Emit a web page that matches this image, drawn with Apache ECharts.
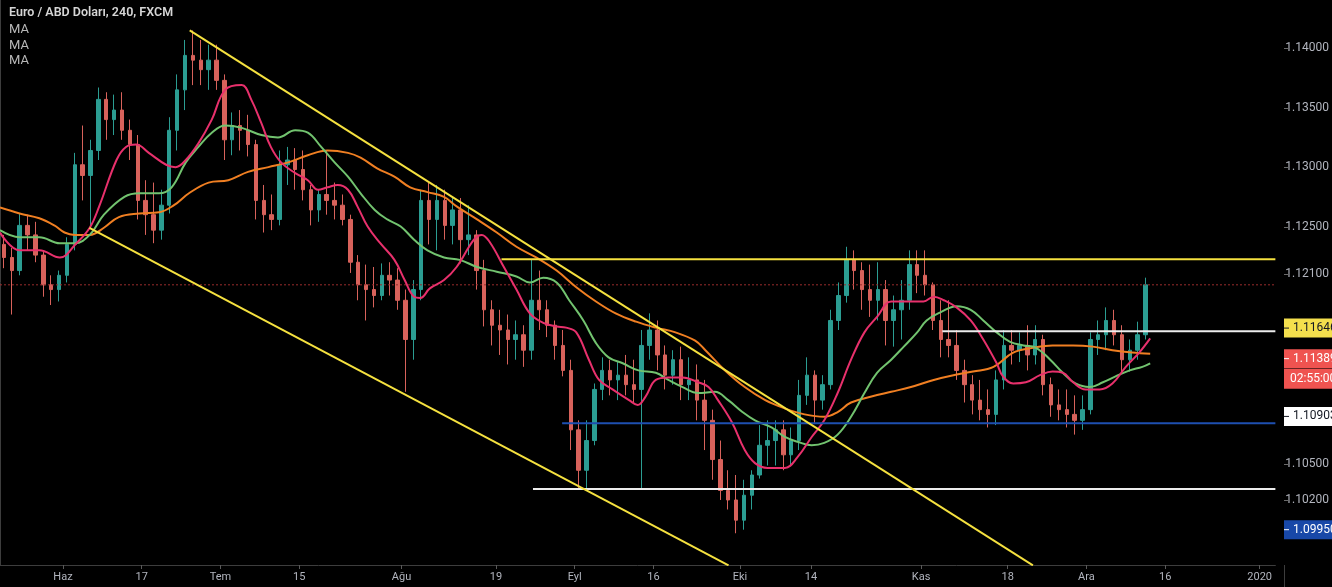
<!DOCTYPE html>
<html><head><meta charset="utf-8">
<script src="https://cdn.jsdelivr.net/npm/echarts@6/dist/echarts.min.js"></script>
<style>html,body{margin:0;padding:0;background:#000;}#c{width:1332px;height:587px;}</style>
</head><body><div id="c"></div>
<script>
// ---- calendar (forex trading days, one category per day) ----
const START_DAY = '2019-05-22';
const END_DAY = '2020-01-02';
function tradingDays(s, e) {
  const out = []; const d = new Date(s + 'T00:00:00Z'); const end = new Date(e + 'T00:00:00Z');
  while (d <= end) { const w = d.getUTCDay(); if (w !== 0 && w !== 6) out.push(d.toISOString().slice(0, 10)); d.setUTCDate(d.getUTCDate() + 1); }
  return out;
}
const days = tradingDays(START_DAY, END_DAY);

// ---- x tick labels ----
const tickDates = ['2019-06-03','2019-06-17','2019-07-01','2019-07-15','2019-08-01','2019-08-19','2019-09-02','2019-09-16','2019-10-01','2019-10-14','2019-11-01','2019-11-18','2019-12-02','2019-12-16','2020-01-01'];
const tickNames = ['Haz','17','Tem','15','Ağu','19','Eyl','16','Eki','14','Kas','18','Ara','16','2020'];

// ---- y tick labels ----
const yTicks = [1.1400, 1.1350, 1.1300, 1.1250, 1.1210, 1.1050, 1.1020];

// ---- daily candles [open, close, low, high] ----
const candles = [
[1.1235,1.1224,1.1215,1.1243],[1.1224,1.1213,1.1176,1.1232],[1.1213,1.1251,1.1209,1.1261],[1.1251,1.1243,1.1230,1.1260],
[1.1243,1.1226,1.1220,1.1254],[1.1226,1.1201,1.1191,1.1230],[1.1201,1.1197,1.1184,1.1209],[1.1197,1.1209,1.1187,1.1213],
[1.1209,1.1235,1.1203,1.1241],[1.1235,1.1302,1.1230,1.1312],[1.1302,1.1293,1.1272,1.1335],[1.1293,1.1314,1.1249,1.1323],
[1.1314,1.1357,1.1306,1.1367],[1.1357,1.1340,1.1323,1.1363],[1.1340,1.1348,1.1327,1.1361],[1.1348,1.1331,1.1323,1.1363],
[1.1331,1.1319,1.1306,1.1340],[1.1319,1.1272,1.1256,1.1327],[1.1272,1.1260,1.1243,1.1289],[1.1260,1.1247,1.1236,1.1287],
[1.1247,1.1268,1.1239,1.1281],[1.1268,1.1331,1.1261,1.1342],[1.1331,1.1365,1.1314,1.1378],[1.1365,1.1394,1.1348,1.1407],
[1.1394,1.1390,1.1369,1.1415],[1.1390,1.1382,1.1369,1.1407],[1.1382,1.1390,1.1365,1.1403],[1.1390,1.1373,1.1365,1.1403],
[1.1373,1.1323,1.1306,1.1378],[1.1323,1.1335,1.1310,1.1346],[1.1335,1.1331,1.1314,1.1348],[1.1331,1.1319,1.1309,1.1344],
[1.1319,1.1272,1.1256,1.1323],[1.1272,1.1260,1.1245,1.1285],[1.1260,1.1256,1.1247,1.1277],[1.1256,1.1302,1.1251,1.1314],
[1.1302,1.1306,1.1285,1.1317],[1.1306,1.1298,1.1281,1.1316],[1.1298,1.1281,1.1272,1.1314],[1.1281,1.1264,1.1251,1.1285],
[1.1264,1.1277,1.1254,1.1281],[1.1277,1.1272,1.1260,1.1314],[1.1272,1.1268,1.1256,1.1287],[1.1268,1.1256,1.1251,1.1277],
[1.1256,1.1220,1.1211,1.1260],[1.1220,1.1201,1.1188,1.1226],[1.1201,1.1197,1.1171,1.1218],[1.1197,1.1192,1.1182,1.1216],
[1.1192,1.1209,1.1188,1.1219],[1.1209,1.1205,1.1192,1.1220],[1.1205,1.1188,1.1180,1.1215],[1.1188,1.1155,1.1111,1.1197],
[1.1155,1.1197,1.1138,1.1205],[1.1197,1.1272,1.1188,1.1281],[1.1272,1.1256,1.1235,1.1287],[1.1256,1.1272,1.1230,1.1285],
[1.1272,1.1251,1.1239,1.1281],[1.1251,1.1264,1.1235,1.1274],[1.1264,1.1239,1.1219,1.1274],[1.1239,1.1243,1.1226,1.1268],
[1.1243,1.1213,1.1197,1.1247],[1.1213,1.1180,1.1166,1.1222],[1.1180,1.1167,1.1150,1.1188],[1.1167,1.1163,1.1142,1.1180],
[1.1163,1.1155,1.1134,1.1176],[1.1155,1.1159,1.1138,1.1171],[1.1159,1.1146,1.1132,1.1167],[1.1146,1.1188,1.1138,1.1222],
[1.1188,1.1180,1.1163,1.1213],[1.1180,1.1167,1.1157,1.1188],[1.1167,1.1150,1.1138,1.1171],[1.1150,1.1129,1.1124,1.1163],
[1.1129,1.1079,1.1062,1.1138],[1.1079,1.1045,1.1030,1.1087],[1.1045,1.1070,1.1028,1.1087],[1.1070,1.1113,1.1066,1.1118],
[1.1113,1.1129,1.1104,1.1140],[1.1129,1.1121,1.1108,1.1138],[1.1121,1.1125,1.1104,1.1136],[1.1125,1.1117,1.1108,1.1142],
[1.1117,1.1113,1.1102,1.1138],[1.1113,1.1150,1.1030,1.1163],[1.1150,1.1163,1.1138,1.1177],[1.1163,1.1142,1.1129,1.1171],
[1.1142,1.1125,1.1113,1.1150],[1.1125,1.1138,1.1117,1.1146],[1.1138,1.1117,1.1104,1.1149],[1.1117,1.1121,1.1104,1.1140],
[1.1121,1.1104,1.1087,1.1134],[1.1104,1.1087,1.1062,1.1121],[1.1087,1.1054,1.1037,1.1096],[1.1054,1.1028,1.1020,1.1070],
[1.1028,1.1020,1.1012,1.1045],[1.1020,1.1003,1.0992,1.1041],[1.1003,1.1024,1.0995,1.1037],[1.1024,1.1041,1.1012,1.1045],
[1.1041,1.1066,1.1038,1.1083],[1.1066,1.1070,1.1049,1.1087],[1.1070,1.1079,1.1049,1.1087],[1.1079,1.1058,1.1045,1.1087],
[1.1058,1.1070,1.1049,1.1081],[1.1070,1.1108,1.1062,1.1121],[1.1108,1.1125,1.1100,1.1140],[1.1125,1.1104,1.1085,1.1129],
[1.1104,1.1117,1.1096,1.1125],[1.1117,1.1171,1.1113,1.1180],[1.1171,1.1192,1.1163,1.1203],[1.1192,1.1222,1.1186,1.1233],
[1.1222,1.1213,1.1197,1.1230],[1.1213,1.1197,1.1180,1.1220],[1.1197,1.1188,1.1174,1.1218],[1.1188,1.1197,1.1171,1.1220],
[1.1197,1.1171,1.1150,1.1205],[1.1171,1.1180,1.1149,1.1192],[1.1180,1.1188,1.1155,1.1205],[1.1188,1.1218,1.1180,1.1230],
[1.1218,1.1209,1.1194,1.1230],[1.1209,1.1201,1.1192,1.1230],[1.1201,1.1171,1.1163,1.1203],[1.1171,1.1155,1.1140,1.1188],
[1.1155,1.1150,1.1140,1.1188],[1.1150,1.1129,1.1121,1.1163],[1.1129,1.1117,1.1102,1.1138],[1.1117,1.1104,1.1092,1.1125],
[1.1104,1.1096,1.1087,1.1121],[1.1096,1.1092,1.1081,1.1113],[1.1092,1.1121,1.1083,1.1129],[1.1121,1.1150,1.1113,1.1163],
[1.1150,1.1146,1.1134,1.1163],[1.1146,1.1150,1.1136,1.1161],[1.1150,1.1142,1.1129,1.1167],[1.1142,1.1155,1.1134,1.1167],
[1.1155,1.1117,1.1108,1.1159],[1.1117,1.1100,1.1090,1.1123],[1.1100,1.1096,1.1087,1.1113],[1.1096,1.1092,1.1081,1.1113],
[1.1092,1.1087,1.1075,1.1108],[1.1087,1.1096,1.1079,1.1108],[1.1096,1.1155,1.1092,1.1161],[1.1155,1.1159,1.1142,1.1171],
[1.1159,1.1171,1.1146,1.1182],[1.1171,1.1159,1.1150,1.1180],[1.1159,1.1138,1.1127,1.1167],[1.1138,1.1146,1.1128,1.1155],
[1.1146,1.1159,1.1138,1.1170],[1.1159,1.1201,1.1155,1.1207]
];

// ---- moving averages: [day position, price] ----
const maFast = [[0,1.1245],[2.5,1.1230],[5.0,1.1230],[7.6,1.1224],[9.7,1.1236],[11.4,1.1249],[12.6,1.1267],[14.8,1.1306],[16.0,1.1317],[17.3,1.1319],[18.9,1.1312],[21.1,1.1302],[22.3,1.1300],[23.6,1.1306],[25.2,1.1320],[26.9,1.1340],[28.6,1.1365],[30.7,1.1369],[31.9,1.1357],[33.2,1.1337],[34.4,1.1317],[35.7,1.1304],[37.5,1.1295],[39.1,1.1289],[40.4,1.1281],[41.6,1.1283],[42.9,1.1285],[44.2,1.1281],[45.4,1.1267],[46.7,1.1250],[48.3,1.1236],[50.1,1.1222],[51.4,1.1205],[52.6,1.1191],[53.4,1.1190],[54.6,1.1198],[56.4,1.1205],[58.0,1.1216],[60.2,1.1239],[61.2,1.1243],[62.2,1.1237],[64.0,1.1216],[65.6,1.1197],[67.3,1.1177],[69.0,1.1169],[70.7,1.1166],[71.9,1.1165],[73.2,1.1161],[74.8,1.1138],[76.1,1.1121],[77.8,1.1113],[79.9,1.1104],[81.0,1.1100],[82.0,1.1107],[83.3,1.1121],[84.9,1.1123],[86.7,1.1123],[88.7,1.1119],[90.0,1.1115],[91.2,1.1104],[93.0,1.1085],[94.6,1.1062],[95.9,1.1051],[97.5,1.1047],[99.7,1.1047],[101.3,1.1056],[103.1,1.1073],[104.7,1.1087],[106.4,1.1110],[108.1,1.1138],[109.8,1.1161],[111.4,1.1174],[113.2,1.1187],[114.8,1.1187],[117.3,1.1187],[118.6,1.1191],[119.9,1.1188],[121.5,1.1182],[123.3,1.1171],[124.9,1.1155],[126.6,1.1135],[127.4,1.1124],[128.7,1.1118],[130.3,1.1119],[132.1,1.1125],[133.7,1.1128],[135.0,1.1127],[136.3,1.1119],[137.9,1.1113],[139.7,1.1113],[141.3,1.1118],[143.0,1.1132],[144.7,1.1144],[146.1,1.1156]];
const maMid = [[0,1.1247],[2.5,1.1241],[5.0,1.1241],[7.6,1.1236],[9.5,1.1236],[11.4,1.1243],[13.2,1.1260],[15.8,1.1275],[17.7,1.1278],[20.2,1.1278],[21.8,1.1283],[23.6,1.1304],[25.2,1.1317],[26.9,1.1329],[28.6,1.1335],[30.7,1.1333],[33.2,1.1327],[35.3,1.1325],[37.5,1.1331],[39.1,1.1329],[40.8,1.1317],[42.5,1.1304],[44.2,1.1292],[45.8,1.1278],[47.6,1.1264],[49.2,1.1256],[50.9,1.1250],[52.6,1.1239],[54.3,1.1230],[56.4,1.1224],[58.4,1.1222],[60.6,1.1216],[63.1,1.1212],[65.6,1.1208],[67.3,1.1203],[69.0,1.1207],[70.7,1.1203],[72.3,1.1188],[74.1,1.1171],[75.7,1.1152],[77.3,1.1140],[79.1,1.1135],[81.1,1.1129],[83.3,1.1127],[84.9,1.1121],[86.7,1.1115],[88.7,1.1110],[90.8,1.1111],[92.5,1.1104],[94.3,1.1094],[95.9,1.1087],[98.0,1.1081],[99.7,1.1073],[101.3,1.1069],[103.1,1.1066],[104.7,1.1068],[106.4,1.1075],[108.1,1.1090],[109.8,1.1110],[111.4,1.1127],[113.2,1.1138],[114.8,1.1149],[116.5,1.1161],[117.7,1.1171],[119.5,1.1178],[121.5,1.1183],[123.3,1.1180],[124.9,1.1171],[126.6,1.1161],[128.3,1.1153],[130.0,1.1150],[131.6,1.1148],[133.4,1.1138],[135.0,1.1127],[136.6,1.1118],[138.4,1.1115],[140.1,1.1119],[141.7,1.1124],[143.5,1.1129],[145.1,1.1132],[146.1,1.1135]];
const maSlow = [[0,1.1266],[2.5,1.1261],[5.0,1.1257],[6.9,1.1251],[8.2,1.1245],[9.5,1.1243],[11.4,1.1243],[13.2,1.1249],[15.1,1.1258],[17.7,1.1261],[20.2,1.1262],[22.1,1.1268],[24.0,1.1278],[26.5,1.1287],[29.0,1.1289],[31.5,1.1296],[34.1,1.1300],[36.6,1.1304],[39.1,1.1310],[41.6,1.1314],[44.2,1.1312],[45.8,1.1308],[47.9,1.1299],[50.1,1.1292],[52.1,1.1283],[54.3,1.1279],[56.4,1.1275],[58.0,1.1267],[60.6,1.1256],[63.1,1.1245],[65.6,1.1233],[68.1,1.1224],[70.7,1.1213],[73.2,1.1199],[75.7,1.1187],[78.2,1.1177],[80.8,1.1170],[83.3,1.1165],[85.8,1.1161],[88.3,1.1154],[89.6,1.1146],[92.1,1.1129],[94.6,1.1115],[97.2,1.1104],[99.7,1.1097],[102.2,1.1092],[104.7,1.1090],[106.4,1.1094],[108.1,1.1102],[110.7,1.1107],[113.2,1.1111],[115.7,1.1115],[118.6,1.1121],[121.1,1.1125],[123.6,1.1128],[126.2,1.1132],[128.7,1.1144],[131.2,1.1148],[133.7,1.1150],[136.3,1.1150],[138.8,1.1149],[141.3,1.1146],[143.8,1.1144],[146.1,1.1143]];

// ---- drawn trend lines [day position, price] ----
const trendUpper = [[24.1,1.1415],[131.2,1.0965]];
const trendLower = [[11.36,1.1249],[92.54,1.0965]];
// horizontal levels: [start day position, price]
const levelYellow = [63.7, 1.12226];
const levelWhiteHigh = [119.7, 1.1162];
const levelWhiteLow = [67.7, 1.10292];
const levelBlue = [71.4, 1.10845];
const lastPrice = 1.1201;

// right-axis price tags
const priceTags = [
  {value:1.11646, text:'1.11646', bg:'#f4df4d', fg:'#131722'},
  {value:1.11389, text:'1.11389', bg:'#ef5350', fg:'#ffffff', sub:'02:55:00'},
  {value:1.10903, text:'1.10903', bg:'#ffffff', fg:'#131722'},
  {value:1.09950, text:'1.09950', bg:'#1848a8', fg:'#ffffff'}
];

const N = days.length;
const tickIdx = tickDates.map(d => days.indexOf(d));
const hline = (lv) => [[lv[0], lv[1]], [N, lv[1]]];
const lineS = (name, data, color, width, extra) => Object.assign({
  name, type:'line', xAxisIndex:1, yAxisIndex:0, data, symbol:'none', silent:true,
  lineStyle:{color, width}, z:3
}, extra || {});

const chart = echarts.init(document.getElementById('c'), null, {renderer:'canvas'});
chart.setOption({
  backgroundColor:'#000000',
  animation:false,
  grid:{left:0, right:48, top:0, bottom:22},
  xAxis:[
    {type:'category', data:days, show:false, boundaryGap:true},
    {type:'value', min:0, max:N, position:'bottom',
     axisLine:{show:true, lineStyle:{color:'#3d3d3d'}},
     axisTick:{show:true, customValues:tickIdx, length:4, lineStyle:{color:'#5a5a5a'}},
     axisLabel:{customValues:tickIdx, formatter:(v)=>tickNames[tickIdx.indexOf(v)], color:'#b2b5be', fontSize:11, fontFamily:'Roboto', margin:7},
     splitLine:{show:false}}
  ],
  yAxis:[{type:'value', position:'right', min:1.09653, max:1.14406, scale:true,
    axisLine:{show:true, lineStyle:{color:'#3d3d3d'}},
    axisTick:{show:false},
    axisLabel:{customValues:yTicks, formatter:(v)=>v.toFixed(5), color:'#b2b5be', fontSize:12, fontFamily:'Roboto', margin:10},
    splitLine:{show:false}}],
  series:[
    {name:'EURUSD', type:'candlestick', xAxisIndex:0, yAxisIndex:0, data:candles, barWidth:'50%', silent:true,
     itemStyle:{color:'#2b9d92', color0:'#d8625b', borderColor:'#2b9d92', borderColor0:'#d8625b', borderWidth:1}, z:2},
    lineS('last', [[0,lastPrice],[N,lastPrice]], '#9a2c2c', 1, {lineStyle:{color:'#9a2c2c', width:1, type:[2,2]}}),
    lineS('maSlow', maSlow, '#f07f22', 2, {smooth:0.4}),
    lineS('maMid', maMid, '#72c36f', 2, {smooth:0.4}),
    lineS('maFast', maFast, '#e8306c', 2, {smooth:0.4}),
    lineS('levelBlue', hline(levelBlue), '#1e4fb0', 2),
    lineS('levelWhiteLow', hline(levelWhiteLow), '#ececec', 2),
    lineS('levelWhiteHigh', hline(levelWhiteHigh), '#ececec', 2),
    lineS('levelYellow', hline(levelYellow), '#f5e13f', 2),
    lineS('trendUpper', trendUpper, '#f5e13f', 2),
    lineS('trendLower', trendLower, '#f5e13f', 2)
  ]
});

// header texts, y ticks and price tags placed through the y scale
const g = [
  {type:'text', x:9, y:13, style:{text:'Euro / ABD Doları, 240, FXCM', fill:'#d6d6d6', fontSize:12.5, fontWeight:600, fontFamily:'Roboto', verticalAlign:'middle'}, z:200},
  {type:'text', x:9, y:30, style:{text:'MA', fill:'#b8b8b8', fontSize:13, fontFamily:'Roboto', verticalAlign:'middle'}, z:200},
  {type:'text', x:9, y:46, style:{text:'MA', fill:'#b8b8b8', fontSize:13, fontFamily:'Roboto', verticalAlign:'middle'}, z:200},
  {type:'text', x:9, y:61, style:{text:'MA', fill:'#b8b8b8', fontSize:13, fontFamily:'Roboto', verticalAlign:'middle'}, z:200}
];
const axX = 1284;
yTicks.forEach(v => {
  const y = Math.round(chart.convertToPixel({yAxisIndex:0}, v)) + 0.5;
  g.push({type:'line', shape:{x1:axX, y1:y, x2:axX+5, y2:y}, style:{stroke:'#6a6a6a', lineWidth:1}, z:100});
});
priceTags.forEach(t => {
  const y = chart.convertToPixel({yAxisIndex:0}, t.value);
  g.push({type:'rect', shape:{x:axX, y:y-9.5, width:60, height:19}, style:{fill:t.bg}, z:150});
  g.push({type:'line', shape:{x1:axX, y1:y, x2:axX+5, y2:y}, style:{stroke:t.fg, lineWidth:1}, z:151});
  g.push({type:'text', x:axX+9, y:y, style:{text:t.text, fill:t.fg, fontSize:12, fontFamily:'Roboto', verticalAlign:'middle'}, z:152});
  if (t.sub) {
    g.push({type:'rect', shape:{x:axX, y:y+10, width:60, height:20}, style:{fill:t.bg}, z:150});
    g.push({type:'text', x:axX+6, y:y+20, style:{text:t.sub, fill:t.fg, fontSize:12, fontFamily:'Roboto', verticalAlign:'middle'}, z:152});
  }
});
g.push({type:'line', shape:{x1:axX+0.5, y1:565, x2:axX+0.5, y2:587}, style:{stroke:'#3d3d3d', lineWidth:1}, z:100});
chart.setOption({graphic:g});
</script>
</body></html>
